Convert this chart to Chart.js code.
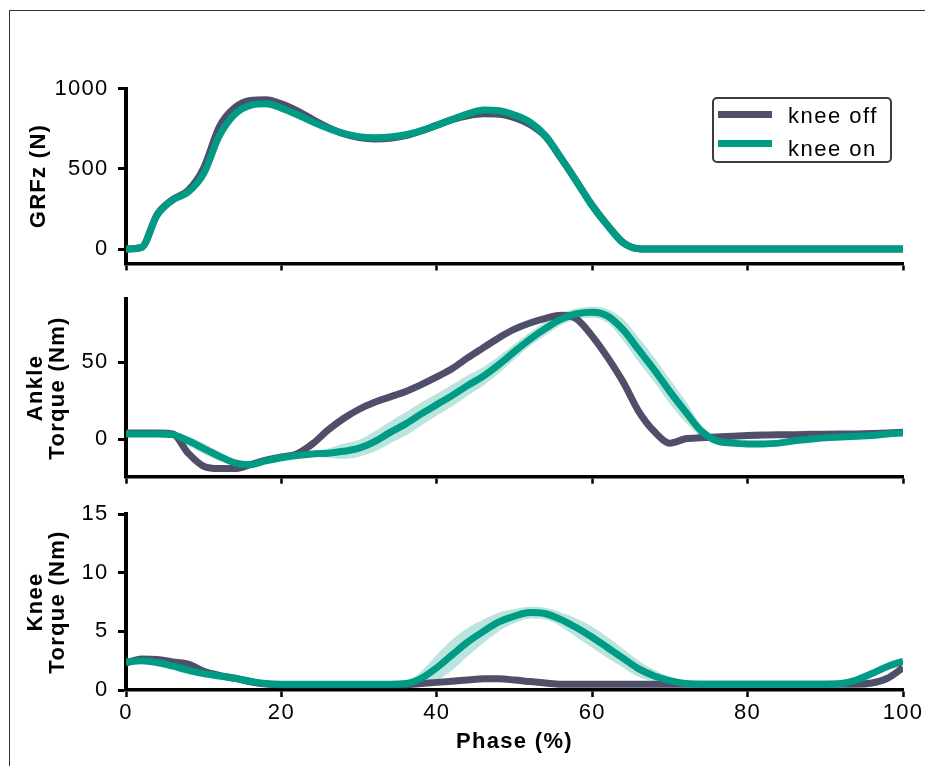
<!DOCTYPE html>
<html><head><meta charset="utf-8">
<script src="https://cdn.jsdelivr.net/npm/chart.js@4"></script>
<style>
html,body{margin:0;padding:0;background:#fff;}
#wrap{position:relative;width:925px;height:766px;overflow:hidden;background:#fff;}
#frame{position:absolute;left:9px;top:10px;width:1000px;height:1000px;border-left:1px solid #333;border-top:1px solid #333;}
canvas{position:absolute;left:0;top:0;}
#legend{position:absolute;left:712px;top:97px;width:180px;height:66px;box-sizing:border-box;border:2px solid #3c3c3c;border-radius:5px;background:#fff;font-family:'Liberation Sans',Arial,sans-serif;font-size:22px;line-height:22px;letter-spacing:1.5px;color:#000;}
#legend .sw{position:absolute;left:4px;width:54px;height:7px;}
#legend .tx{position:absolute;left:74px;white-space:nowrap;}
</style></head>
<body>
<div id="wrap">
  <div id="frame"></div>
  <canvas id="c1" width="925" height="766"></canvas>
  <canvas id="c2" width="925" height="766"></canvas>
  <canvas id="c3" width="925" height="766"></canvas>
  <div id="legend">
    <div class="sw" style="top:12px;background:#4f4f6a"></div>
    <div class="tx" style="top:6px">knee off</div>
    <div class="sw" style="top:41px;background:#009b84"></div>
    <div class="tx" style="top:39px">knee on</div>
  </div>
</div>
<script>
// ---- data (phase in % of stride) ----
const PHASE = [0,2,4,6,8,10,12,14,16,18,20,22,24,26,28,30,32,34,36,38,40,42,44,46,48,50,52,54,56,58,60,62,64,66,68,70,72,74,76,78,80,82,84,86,88,90,92,94,96,98,100];
const X_TICKS = [0,20,40,60,80,100];

const GRF_TICKS = [0,500,1000];
const GRF_OFF = [0,10,215,308,365,505,760,880,925,930,905,862,808,758,718,694,686,690,706,735,772,806,830,842,840,818,775,700,565,420,272,147,40,2,0,0,0,0,0,0,0,0,0,0,0,0,0,0,0,0,0];
const GRF_ON  = [0,10,210,305,355,470,705,840,895,905,878,838,792,752,720,700,694,698,712,738,770,808,842,866,862,835,790,705,565,420,270,145,38,2,0,0,0,0,0,0,0,0,0,0,0,0,0,0,0,0,0];
const GRF_OFF_SD = [0,3,8,8,12,35,40,25,15,15,12,10,10,10,10,10,10,10,10,10,10,10,10,10,10,10,10,10,8,8,8,6,5,0,0,0,0,0,0,0,0,0,0,0,0,0,0,0,0,0,0];
const GRF_ON_SD  = [0,3,8,8,10,15,15,12,10,10,10,8,8,8,8,8,8,8,8,8,8,8,8,12,15,18,20,20,15,12,10,8,5,0,0,0,0,0,0,0,0,0,0,0,0,0,0,0,0,0,0];

const ANKLE_TICKS = [0,50];
const ANKLE_OFF = [4,4,4,3.5,-9,-17.5,-19,-19,-16.5,-13.5,-11.5,-9.5,-3,6,13.5,19.5,24,27.5,31,35.5,40.5,46,53,59.5,66,71.5,75.5,78.5,80.5,78,67,53,37,18,5,-2.5,0.3,1,1.5,2,2.5,2.8,3,3,3.2,3.3,3.4,3.5,3.7,4,4.5];
const ANKLE_ON  = [3.5,3.5,3.5,3,-1,-6,-11,-15.3,-16.5,-14,-12,-10.5,-9.5,-9,-7.8,-5.8,-1.5,4.5,10,16.5,22.5,28.5,35,41,48.5,57,65,72,78,81.5,82.5,80,71,58,45,31,18,5.5,-1,-2.5,-3,-3,-2.5,-1,0,1,1.5,2,2.5,3.5,4];
const ANKLE_OFF_SD = [0.8,0.8,0.8,1,1.5,1.5,1,1,1,1,1,1,1.5,1.5,1.5,1.2,1,1,1,1,1,1,1,1,1,1,1,1,1,1,1,1,1,1,1,1,1,1,1,1,1,1,1,1,1,1,1,1,1,1,1];
const ANKLE_ON_SD  = [0.8,0.8,0.8,1,3,3.5,3,2,1,1,1,1.2,1.8,3,5,5.5,6.5,7,7.5,7.5,7,7,6.5,6,5.5,5,4.5,4.5,4,3.5,3.5,4.5,7,8,8,8,7,4,2.5,2,2,2,2,1.5,1,0.8,0.8,0.8,0.8,0.8,0.8];

const KNEE_TICKS = [0,5,10,15];
const KNEE_OFF = [2.3,2.65,2.6,2.4,2.2,1.6,1.25,1.0,0.7,0.5,0.45,0.45,0.45,0.45,0.45,0.45,0.45,0.45,0.45,0.55,0.65,0.75,0.85,0.95,0.95,0.85,0.72,0.6,0.5,0.5,0.5,0.5,0.5,0.5,0.5,0.5,0.5,0.5,0.5,0.5,0.5,0.5,0.5,0.5,0.5,0.5,0.5,0.5,0.6,1.0,1.9];
const KNEE_ON  = [2.4,2.5,2.35,2.05,1.7,1.4,1.2,1.0,0.75,0.55,0.5,0.5,0.5,0.5,0.5,0.5,0.5,0.5,0.55,1.0,1.9,3.0,4.1,5.0,5.8,6.3,6.6,6.5,6.0,5.3,4.5,3.6,2.7,1.8,1.2,0.8,0.55,0.5,0.5,0.5,0.5,0.5,0.5,0.5,0.5,0.5,0.55,0.85,1.4,2.0,2.45];
const KNEE_OFF_SD = [0.15,0.15,0.15,0.15,0.15,0.15,0.15,0.1,0.1,0.1,0.1,0.1,0.1,0.1,0.1,0.1,0.1,0.1,0.1,0.1,0.1,0.1,0.1,0.1,0.1,0.1,0.1,0.1,0.1,0.1,0.1,0.1,0.1,0.1,0.1,0.1,0.1,0.1,0.1,0.1,0.1,0.1,0.1,0.1,0.1,0.1,0.1,0.1,0.15,0.2,0.2];
const KNEE_ON_SD  = [0.2,0.2,0.3,0.35,0.35,0.25,0.15,0.1,0.1,0.1,0.1,0.1,0.1,0.1,0.1,0.1,0.1,0.1,0.15,0.6,1.1,1.3,1.2,1.0,0.8,0.6,0.5,0.5,0.6,0.8,0.9,0.9,0.8,0.7,0.5,0.3,0.15,0.1,0.1,0.1,0.1,0.1,0.1,0.1,0.1,0.1,0.1,0.2,0.3,0.3,0.3];

// ---- styling ----
const FONT = "'Liberation Sans', Arial, Helvetica, sans-serif";
const C_OFF = '#4f4f6a', C_ON = '#009b84';
const B_OFF = 'rgba(79,79,106,0.25)', B_ON = 'rgba(0,155,132,0.27)';
const H = 766;

const spacing = {
  id: 'spacing',
  beforeUpdate(c){ c.ctx.letterSpacing = '1.3px'; },
  beforeDraw(c){ c.ctx.letterSpacing = '1.3px'; }
};

function pts(vals){ return PHASE.map((x,i)=>({x:x, y:vals[i]})); }
function band(mean, sd, sign){ return PHASE.map((x,i)=>({x:x, y:mean[i] + sign*sd[i]})); }

function panel(id, p){
  const common = {pointRadius:0, cubicInterpolationMode:'monotone'};
  const datasets = [
    Object.assign({label:'knee on', data:pts(p.on), borderColor:C_ON, borderWidth:7, fill:false, borderJoinStyle:'round'}, common),
    Object.assign({label:'knee off', data:pts(p.off), borderColor:C_OFF, borderWidth:7, fill:false, borderJoinStyle:'round'}, common),
    Object.assign({data:band(p.on,p.onSd,1), borderWidth:0, borderColor:'transparent', backgroundColor:B_ON, fill:'+1'}, common),
    Object.assign({data:band(p.on,p.onSd,-1), borderWidth:0, borderColor:'transparent', fill:false}, common),
    Object.assign({data:band(p.off,p.offSd,1), borderWidth:0, borderColor:'transparent', backgroundColor:B_OFF, fill:'+1'}, common),
    Object.assign({data:band(p.off,p.offSd,-1), borderWidth:0, borderColor:'transparent', fill:false}, common)
  ];
  return new Chart(document.getElementById(id), {
    type:'line',
    data:{datasets},
    plugins:[spacing],
    options:{
      responsive:false, animation:false, events:[],
      layout:{padding:{top:p.top, left:0, right:22, bottom:0}},
      plugins:{legend:{display:false}, tooltip:{enabled:false}},
      scales:{
        x:{
          type:'linear', min:0, max:100,
          afterBuildTicks:s=>{ s.ticks = X_TICKS.map(v=>({value:v})); },
          afterFit:s=>{ s.height = H - p.bottom; s.paddingLeft = 0; s.paddingRight = 0; },
          grid:{drawOnChartArea:false, drawTicks:true, tickLength:7, tickWidth:2.5, tickColor:'#000'},
          border:{display:true, color:'#000', width:3.5},
          ticks:{display:!!p.showX, autoSkip:false, maxRotation:0, color:'#000', padding:3, font:{family:FONT, size:22}, callback:v=>String(v)},
          title:{display:!!p.showX, text:'Phase (%)', color:'#000', font:{family:FONT, size:22, weight:'bold', lineHeight:1}, padding:{top:0, bottom:13}}
        },
        y:{
          type:'linear', min:p.min, max:p.max,
          afterBuildTicks:s=>{ s.ticks = p.ticks.map(v=>({value:v})); },
          afterFit:s=>{ s.width = 126; s.paddingTop = 0; s.paddingBottom = 0; },
          grid:{drawOnChartArea:false, drawTicks:true, tickLength:8, tickWidth:3, tickColor:'#000'},
          border:{display:true, color:'#000', width:4},
          ticks:{autoSkip:false, color:'#000', padding:9.4, font:{family:FONT, size:22}, callback:v=>String(v)},
          title:{display:true, text:p.title, color:'#000', font:{family:FONT, size:22, weight:'bold', lineHeight:1}, padding:{top:p.tpad, bottom:0}}
        }
      }
    }
  });
}

panel('c1', {top:88.5, bottom:263.5, min:-90, max:1000, ticks:GRF_TICKS, title:'GRFz (N)', tpad:27.5,
  on:GRF_ON, off:GRF_OFF, onSd:GRF_ON_SD, offSd:GRF_OFF_SD});
panel('c2', {top:299.3, bottom:476.7, min:-24.3, max:90.9, ticks:ANKLE_TICKS, title:['Ankle','Torque (Nm)'], tpad:24.5,
  on:ANKLE_ON, off:ANKLE_OFF, onSd:ANKLE_ON_SD, offSd:ANKLE_OFF_SD});
panel('c3', {top:514, bottom:690, min:0, max:15, ticks:KNEE_TICKS, title:['Knee','Torque (Nm)'], tpad:24.5, showX:true,
  on:KNEE_ON, off:KNEE_OFF, onSd:KNEE_ON_SD, offSd:KNEE_OFF_SD});
</script>
</body></html>
